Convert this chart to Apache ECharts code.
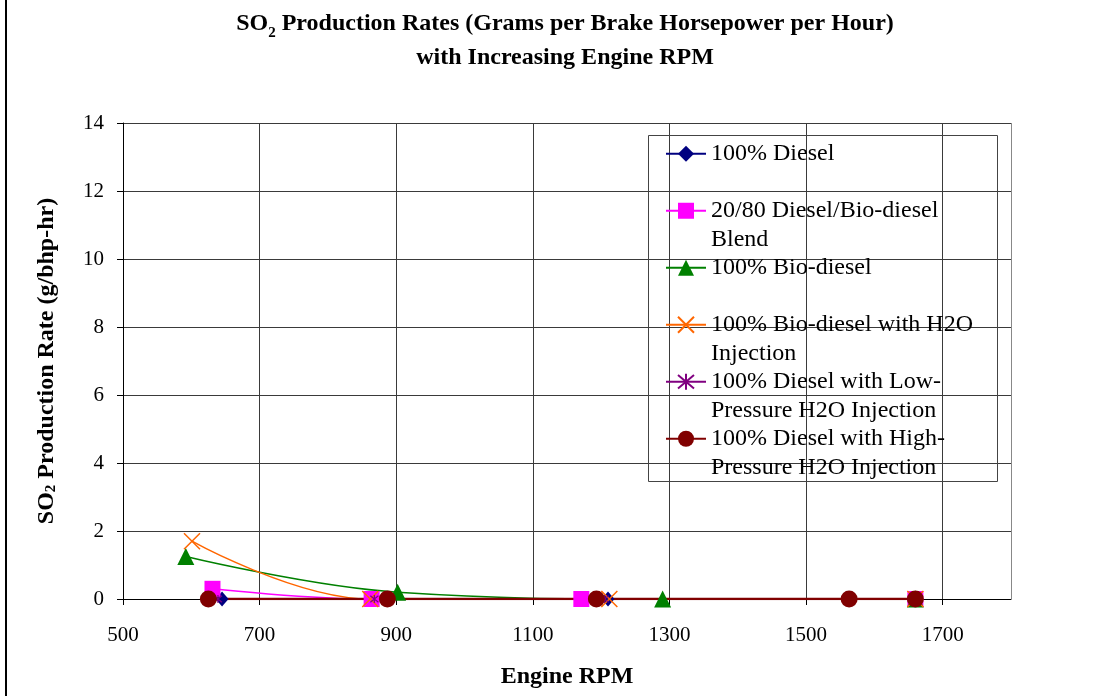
<!DOCTYPE html>
<html><head><meta charset="utf-8">
<script src="https://cdn.jsdelivr.net/npm/echarts@6/dist/echarts.min.js"></script>
<style>html,body{margin:0;padding:0;background:#fff}#c{width:1104px;height:696px}</style>
</head><body><div id="c"></div>
<script>
// ---- data ----
const seriesNames = [
  '100% Diesel',
  '20/80 Diesel/Bio-diesel\nBlend',
  '100% Bio-diesel',
  '100% Bio-diesel with H2O\nInjection',
  '100% Diesel with Low-\nPressure H2O Injection',
  '100% Diesel with High-\nPressure H2O Injection'
];
const diesel      = [[645, 0], [866, 0], [1210, 0], [1660, 0]];
const blend       = [[631, 0.3], [864, 0], [1171, 0], [1660, 0]];
const bioDiesel   = [[592, 1.25], [902, 0.2], [1290, 0], [1660, 0]];
const bioH2O      = [[601, 1.7], [862, 0], [1212, 0], [1660, 0]];
const dieselLowP  = [[639, 0], [868, 0], [1205, 0], [1660, 0]];
const dieselHighP = [[625, 0], [887, 0], [1193, 0], [1563, 0], [1660, 0]];
const xRange = {min: 500, max: 1800, interval: 200};
const yRange = {min: 0, max: 14, interval: 2};

const FONT = 'Liberation Serif';
const chart = echarts.init(document.getElementById('c'), null, {renderer: 'canvas'});

function mk(name, data, color, symbol, size, lw, extraItem) {
  return {
    name: name, type: 'line', data: data, smooth: 0.4,
    symbol: symbol, symbolSize: size, showSymbol: true, clip: true,
    color: color,
    lineStyle: {color: color, width: lw},
    itemStyle: Object.assign({color: color}, extraItem || {}),
    emphasis: {disabled: true},
    animation: false
  };
}
const xPath = 'path://M0,0L10,10M10,0L0,10';
const starPath = 'path://M0,0L10,10M10,0L0,10M5,-1L5,11';

const option = {
  backgroundColor: '#fff',
  animation: false,
  title: {
    text: 'SO{sub|2} Production Rates (Grams per Brake Horsepower per Hour)\nwith Increasing Engine RPM',
    left: 560, textAlign: 'center', top: 2,
    textStyle: {
      fontFamily: FONT, fontWeight: 'bold', fontSize: 24, color: '#000', lineHeight: 34,
      rich: {sub: {fontFamily: FONT, fontWeight: 'bold', fontSize: 15, color: '#000', verticalAlign: 'bottom', padding: [10, 0, 0, 0], lineHeight: 34}}
    }
  },
  grid: {left: 123, right: 93, top: 123, bottom: 97, containLabel: false},
  xAxis: {
    type: 'value', min: xRange.min, max: xRange.max, interval: xRange.interval,
    name: 'Engine RPM', nameLocation: 'middle', nameGap: 66,
    nameTextStyle: {fontFamily: FONT, fontWeight: 'bold', fontSize: 24, color: '#000'},
    axisLine: {onZero: false, lineStyle: {color: '#000', width: 1}},
    axisTick: {show: true, inside: false, length: 6, lineStyle: {color: '#000'}},
    axisLabel: {fontFamily: FONT, fontSize: 21, color: '#000', margin: 26, showMaxLabel: false,
      formatter: function (v) { return String(v); }},
    splitLine: {show: true, lineStyle: {color: '#3a3a3a', width: 1}}
  },
  yAxis: {
    type: 'value', min: yRange.min, max: yRange.max, interval: yRange.interval,
    name: 'SO{sub|2} Production Rate (g/bhp-hr)', nameLocation: 'middle', nameGap: 64,
    nameTextStyle: {fontFamily: FONT, fontWeight: 'bold', fontSize: 24, color: '#000',
      rich: {sub: {fontFamily: FONT, fontWeight: 'bold', fontSize: 15, color: '#000', verticalAlign: 'bottom', padding: [10, 0, 0, 0]}}},
    axisLine: {show: true, lineStyle: {color: '#000', width: 1}},
    axisTick: {show: true, inside: false, length: 6, lineStyle: {color: '#000'}},
    axisLabel: {fontFamily: FONT, fontSize: 21, color: '#000', margin: 19},
    splitLine: {show: true, lineStyle: {color: '#3a3a3a', width: 1}}
  },
  legend: {
    orient: 'vertical', left: 665, top: 111, padding: 0,
    itemWidth: 40, itemHeight: 20, itemGap: -28.5,
    selectedMode: false,
    formatter: function (n) {
      const parts = n.split('\n');
      return ' \n' + parts[0] + '\n' + (parts[1] || ' ');
    },
    textStyle: {fontFamily: FONT, fontSize: 24, color: '#000', lineHeight: 28.5},
    data: seriesNames
  },
  graphic: [
    {type: 'rect', shape: {x: 648.5, y: 135.5, width: 349, height: 346}, style: {fill: null, stroke: '#444', lineWidth: 1}, z: 100},
    {type: 'line', shape: {x1: 1011.5, y1: 123, x2: 1011.5, y2: 599}, style: {stroke: '#888', lineWidth: 1}, z: 50},
    {type: 'line', shape: {x1: 6, y1: 0, x2: 6, y2: 696}, style: {stroke: '#000', lineWidth: 2}}
  ],
  series: [
    mk(seriesNames[0], diesel, '#000080', 'diamond', [13, 15], 1.5),
    mk(seriesNames[1], blend, '#FF00FF', 'rect', 16, 1.5),
    mk(seriesNames[2], bioDiesel, '#008000', 'triangle', 17, 1.5),
    mk(seriesNames[3], bioH2O, '#FF6600', xPath, 16, 1.5, {borderColor: '#FF6600', borderWidth: 1.5}),
    mk(seriesNames[4], dieselLowP, '#800080', starPath, 8, 1.5, {borderColor: '#800080', borderWidth: 1.2}),
    mk(seriesNames[5], dieselHighP, '#800000', 'circle', 17, 2.5)
  ]
};
chart.setOption(option);
</script>
</body></html>
